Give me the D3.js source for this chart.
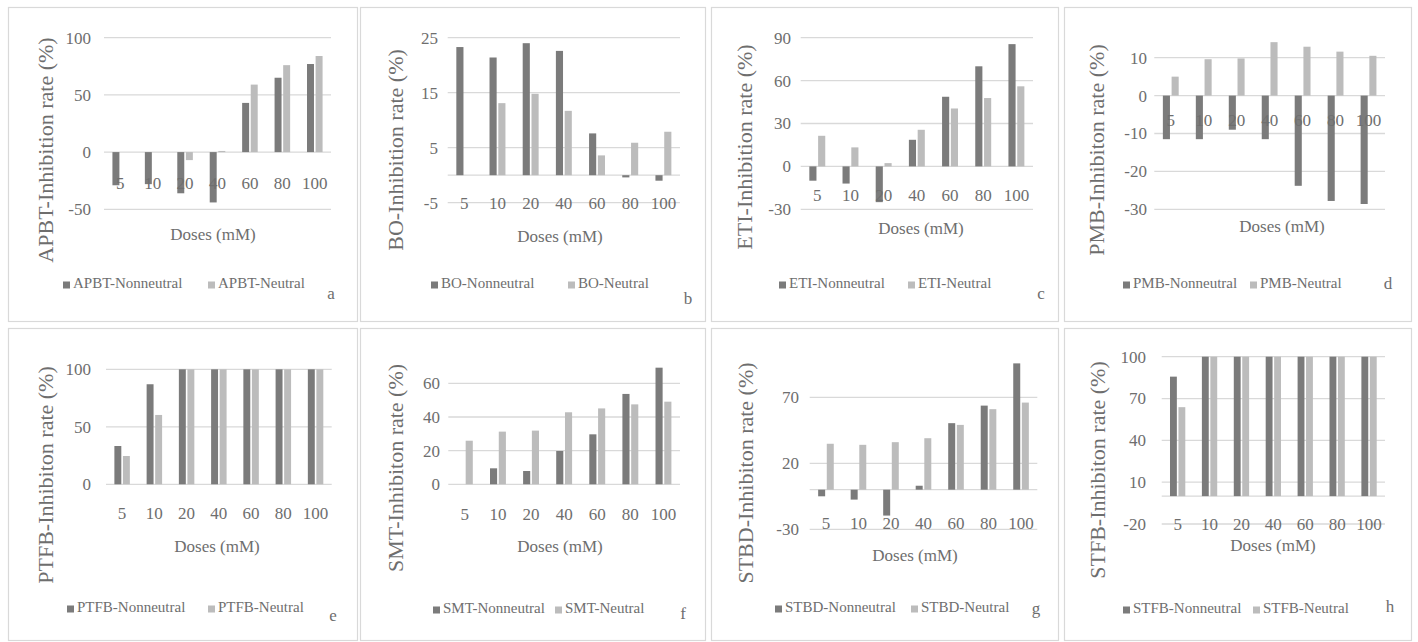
<!DOCTYPE html>
<html>
<head>
<meta charset="utf-8">
<script src="https://cdn.jsdelivr.net/npm/d3@7"></script>
<style>
  html, body { margin: 0; padding: 0; background: #ffffff; }
  svg { display: block; }
  text { font-family: "Liberation Serif", "Times New Roman", serif; fill: #6e6e6e; }
</style>
</head>
<body>
<svg id="chart" width="1418" height="642"></svg>
<script>
// ---------------- DATA ----------------
const doses = ["5", "10", "20", "40", "60", "80", "100"];

const apbtNonneutral = [-29, -28, -36, -44, 43, 65, 77];
const apbtNeutral    = [0, 0, -7, 1, 59, 76, 84];

const boNonneutral = [23.3, 21.4, 24.0, 22.6, 7.6, -0.4, -1.0];
const boNeutral    = [0, 13.1, 14.8, 11.7, 3.6, 5.9, 7.9];

const etiNonneutral = [-10, -12, -25, 18.6, 48.7, 70, 85.5];
const etiNeutral    = [21.4, 13.3, 2.3, 25.6, 40.5, 47.8, 56];

const pmbNonneutral = [-11.5, -11.5, -9, -11.5, -23.8, -27.8, -28.6];
const pmbNeutral    = [5, 9.6, 9.8, 14.1, 12.9, 11.6, 10.5];

const ptfbNonneutral = [33.3, 87, 100, 100, 100, 100, 100];
const ptfbNeutral    = [24.6, 60.3, 100, 100, 100, 100, 100];

const smtNonneutral = [0, 9.5, 7.9, 19.8, 29.7, 53.7, 69.3];
const smtNeutral    = [25.9, 31.3, 31.9, 42.8, 45.1, 47.5, 49.1];

const stbdNonneutral = [-5, -7.5, -19.6, 3, 50.4, 63.7, 95.7];
const stbdNeutral    = [34.8, 34, 36, 39, 49.1, 61, 66];

const stfbNonneutral = [85.7, 100, 100, 100, 100, 100, 100];
const stfbNeutral    = [63.8, 100, 100, 100, 100, 100, 100];

const ticksA = [-50, 0, 50, 100];
const ticksB = [-5, 5, 15, 25];
const ticksC = [-30, 0, 30, 60, 90];
const ticksD = [-30, -20, -10, 0, 10];
const ticksE = [0, 50, 100];
const ticksF = [0, 20, 40, 60];
const ticksG = [-30, 20, 70];
const ticksH = [-20, 10, 40, 70, 100];

const panels = [
  {name: "APBT", yTitle: "APBT-Inhibition rate (%)", letter: "a", non: apbtNonneutral, neu: apbtNeutral, ticks: ticksA, domain: [-50, 100]},
  {name: "BO",   yTitle: "BO-Inhibition rate (%)",   letter: "b", non: boNonneutral,   neu: boNeutral,   ticks: ticksB, domain: [-5, 25]},
  {name: "ETI",  yTitle: "ETI-Inhibition rate (%)",  letter: "c", non: etiNonneutral,  neu: etiNeutral,  ticks: ticksC, domain: [-30, 90]},
  {name: "PMB",  yTitle: "PMB-Inhibiton rate (%)",   letter: "d", non: pmbNonneutral,  neu: pmbNeutral,  ticks: ticksD, domain: [-30, 15]},
  {name: "PTFB", yTitle: "PTFB-Inhibiton rate (%)",  letter: "e", non: ptfbNonneutral, neu: ptfbNeutral, ticks: ticksE, domain: [0, 100]},
  {name: "SMT",  yTitle: "SMT-Inhibiton rate (%)",   letter: "f", non: smtNonneutral,  neu: smtNeutral,  ticks: ticksF, domain: [0, 70]},
  {name: "STBD", yTitle: "STBD-Inhibiton rate (%)",  letter: "g", non: stbdNonneutral, neu: stbdNeutral, ticks: ticksG, domain: [-30, 100]},
  {name: "STFB", yTitle: "STFB-Inhibiton rate (%)",  letter: "h", non: stfbNonneutral, neu: stfbNeutral, ticks: ticksH, domain: [-20, 100]}
];

// ---------------- LAYOUT ----------------
const layout = [
  {box: [8, 7, 357, 321],     px: [104, 331],      py: [37.7, 209.3], tickEnd: 91,   catY: 183, yt: [48, 150],   xt: [213, 236],  legY: 285, legX: [63, 208],    let: [331, 295]},
  {box: [360, 7, 705, 321],   px: [447.7, 680],    py: [37.7, 202.7], tickEnd: 438,  catY: 203, yt: [398, 150],  xt: [560, 238],  legY: 285, legX: [431, 568],   let: [688, 300]},
  {box: [711, 7, 1058, 321],  px: [800.7, 1033],   py: [37.7, 209.3], tickEnd: 791,  catY: 195, yt: [747, 147],  xt: [921, 230],  legY: 285, legX: [779, 908],   let: [1041, 295]},
  {box: [1064, 7, 1411, 321], px: [1154.3, 1385],  py: [38.75, 209.3], tickEnd: 1147, catY: 120, yt: [1099, 150], xt: [1282, 228], legY: 285, legX: [1123, 1250], let: [1388, 285]},
  {box: [8, 328, 357, 640],   px: [106, 331.7],    py: [369.3, 484.3], tickEnd: 91,  catY: 513, yt: [48, 475],   xt: [217, 548],  legY: 609, legX: [67, 208],    let: [333, 617]},
  {box: [360, 328, 705, 640], px: [448.3, 680],    py: [366.5, 484.3], tickEnd: 440, catY: 514, yt: [398, 468],  xt: [560, 548],  legY: 610, legX: [433, 555],   let: [683, 615]},
  {box: [711, 328, 1058, 640], px: [809.7, 1037.3], py: [357.7, 529.3], tickEnd: 799, catY: 523, yt: [748, 473], xt: [915, 557],  legY: 609, legX: [775, 911],   let: [1036, 610]},
  {box: [1064, 328, 1411, 640], px: [1161.7, 1385], py: [356.7, 524],  tickEnd: 1146, catY: 524, yt: [1100, 470], xt: [1273, 547], legY: 610, legX: [1123, 1253], let: [1390, 608]}
];

const darkColor = "#7b7b7b";
const lightColor = "#bcbcbc";
const gridColor = "#d9d9d9";
const textColor = "#6e6e6e";

const svg = d3.select("#chart");
svg.append("rect").attr("width", 1418).attr("height", 642).attr("fill", "#fff");

panels.forEach((p, i) => {
  const L = layout[i];
  const g = svg.append("g");

  // panel border
  g.append("rect")
    .attr("x", L.box[0] + 0.5).attr("y", L.box[1] + 0.5)
    .attr("width", L.box[2] - L.box[0]).attr("height", L.box[3] - L.box[1])
    .attr("fill", "#fff").attr("stroke", gridColor).attr("stroke-width", 1.2);

  const x = d3.scaleBand().domain(doses).range(L.px).padding(0);
  const y = d3.scaleLinear().domain(p.domain).range([L.py[1], L.py[0]]);

  // gridlines (ticks + zero axis line)
  const lines = Array.from(new Set(p.ticks.concat([0])));
  g.selectAll("line.grid").data(lines).enter().append("line")
    .attr("x1", L.px[0]).attr("x2", L.px[1])
    .attr("y1", d => y(d)).attr("y2", d => y(d))
    .attr("stroke", gridColor).attr("stroke-width", 1.3);

  // bars
  const bw = x.bandwidth() * 0.215;
  const gap = x.bandwidth() * 0.05;
  const groupW = bw * 2 + gap;
  const series = [{vals: p.non, color: darkColor, off: 0}, {vals: p.neu, color: lightColor, off: bw + gap}];
  series.forEach(s => {
    g.selectAll(null).data(doses).enter().append("rect")
      .attr("x", d => x(d) + (x.bandwidth() - groupW) / 2 + s.off)
      .attr("width", bw)
      .attr("y", (d, j) => Math.min(y(s.vals[j]), y(0)))
      .attr("height", (d, j) => Math.abs(y(s.vals[j]) - y(0)))
      .attr("fill", s.color);
  });

  // y axis tick labels
  const ya = g.append("g")
    .attr("transform", `translate(${L.tickEnd},0)`)
    .call(d3.axisLeft(y).tickValues(p.ticks).tickSize(0).tickPadding(0).tickFormat(d => String(d)));
  ya.select(".domain").remove();
  ya.selectAll("text").attr("font-family", '"Liberation Serif", serif').attr("font-size", 17).attr("fill", textColor);

  // category labels
  const xa = g.append("g")
    .attr("transform", `translate(0,${L.catY})`)
    .call(d3.axisBottom(x).tickSize(0).tickPadding(0));
  xa.select(".domain").remove();
  xa.selectAll("text").attr("y", 0).attr("dy", "0.35em")
    .attr("font-family", '"Liberation Serif", serif').attr("font-size", 17).attr("fill", textColor);

  // axis titles
  g.append("text")
    .attr("transform", `translate(${L.yt[0]},${L.yt[1]}) rotate(-90)`)
    .attr("text-anchor", "middle").attr("dominant-baseline", "middle")
    .attr("font-size", 22)
    .text(p.yTitle);
  g.append("text")
    .attr("x", L.xt[0]).attr("y", L.xt[1])
    .attr("text-anchor", "middle").attr("dominant-baseline", "middle")
    .attr("font-size", 17)
    .text("Doses (mM)");

  // legend
  const legItems = [{label: p.name + "-Nonneutral", color: darkColor}, {label: p.name + "-Neutral", color: lightColor}];
  legItems.forEach((it, k) => {
    g.append("rect")
      .attr("x", L.legX[k]).attr("y", L.legY - 3.5)
      .attr("width", 7).attr("height", 7).attr("fill", it.color);
    g.append("text")
      .attr("x", L.legX[k] + 10).attr("y", L.legY)
      .attr("dominant-baseline", "middle")
      .attr("font-size", 15)
      .text(it.label);
  });

  // panel letter
  g.append("text")
    .attr("x", L.let[0]).attr("y", L.let[1])
    .attr("text-anchor", "middle").attr("dominant-baseline", "middle")
    .attr("font-size", 17).attr("fill", "#333")
    .text(p.letter);
});
</script>
</body>
</html>
